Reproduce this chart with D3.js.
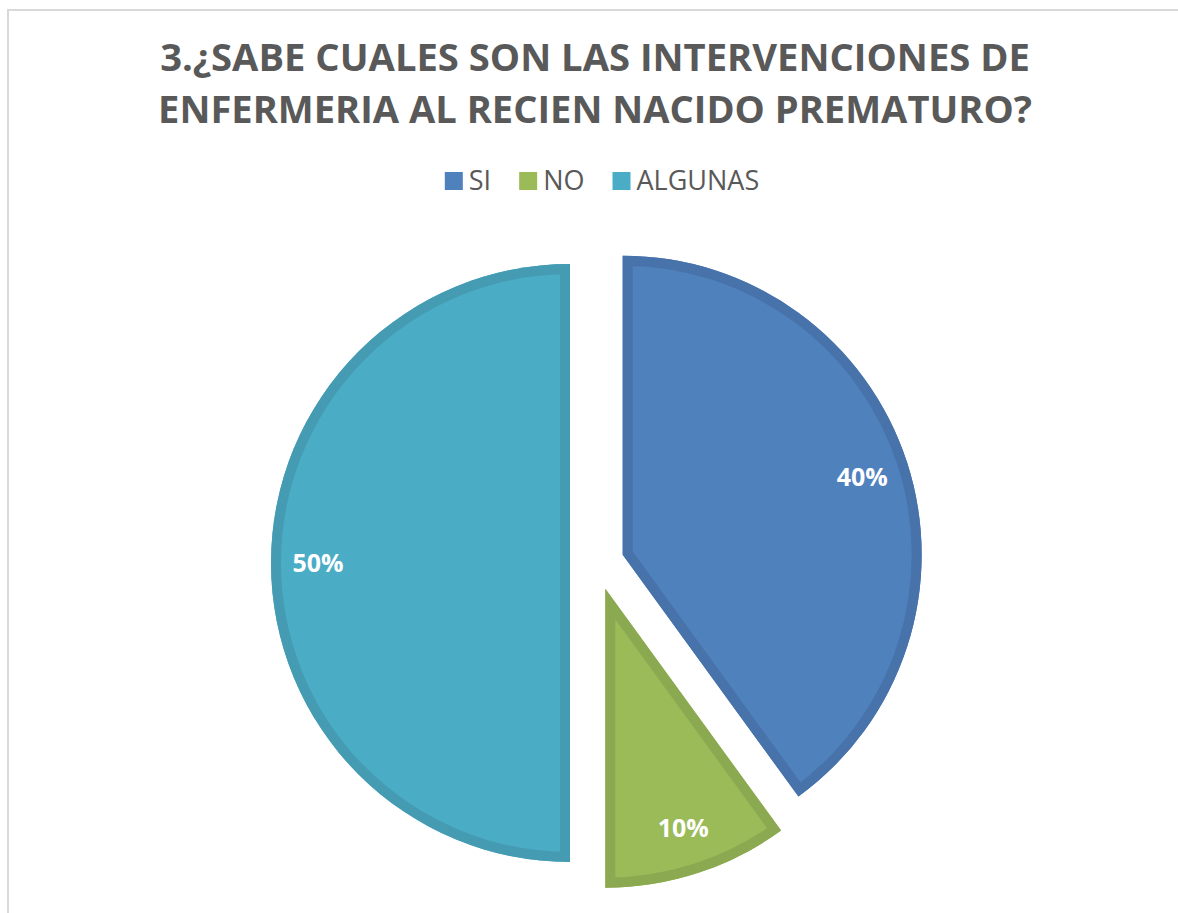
<!DOCTYPE html>
<html><head><meta charset="utf-8">
<script src="https://cdn.jsdelivr.net/npm/d3@7"></script>
<style>body{margin:0;background:#fff;}svg{display:block;}</style>
</head><body>
<svg id="c" width="1178" height="913"></svg>
<script>
const titleLines = ["3.¿SABE CUALES SON LAS INTERVENCIONES DE", "ENFERMERIA AL RECIEN NACIDO PREMATURO?"];
const categories = ["SI", "NO", "ALGUNAS"];
const values = [40, 10, 50];
const labels = ["40%", "10%", "50%"];
const fillColors = ["#4F81BD", "#9BBB59", "#4BACC6"];
const edgeColors = ["#4773AA", "#8BA950", "#449BB2"];

const svg = d3.select("#c");
const W = 1178, H = 913;
svg.append("rect").attr("x", 8).attr("y", 10).attr("width", W + 10).attr("height", H + 10)
  .attr("fill", "#fff").attr("stroke", "#d9d9d9").attr("stroke-width", 2);

// Title
const titleG = svg.append("g");
const baselines = [71, 123];
titleLines.forEach((t, i) => {
  const tx = titleG.append("text").attr("x", 595).attr("y", baselines[i])
    .attr("text-anchor", "middle").attr("font-family", "Open Sans, sans-serif")
    .attr("font-weight", "bold").attr("fill", "#595959").attr("font-size", 36).text(t);
  const w = tx.node().getComputedTextLength();
  const target = i === 0 ? 870 : 874;
  tx.attr("font-size", 36 * target / w);
});

// Legend
const legG = svg.append("g").attr("font-family", "Open Sans, sans-serif");
let lx = 0;
categories.forEach((c, i) => {
  const g = legG.append("g");
  g.append("rect").attr("x", 0).attr("y", -18).attr("width", 18).attr("height", 18).attr("fill", fillColors[i]);
  const t = g.append("text").attr("x", 24).attr("y", 0).attr("font-size", 27).attr("fill", "#595959").text(c);
  const w = 24 + t.node().getComputedTextLength();
  g.attr("transform", `translate(${lx},0)`);
  lx += w + 28;
});
const legW = lx - 28;
legG.attr("transform", `translate(${602 - legW / 2},190)`);

// Pie
const cx = 597, cy = 563, R = 299, explode = 27;
const pie = d3.pie().sort(null).value(d => d)(values);
const arc = d3.arc().innerRadius(0).outerRadius(R);
const defs = svg.append("defs");
const pieG = svg.append("g").attr("transform", `translate(${cx},${cy})`);
pie.forEach((p, i) => {
  const mid = (p.startAngle + p.endAngle) / 2;
  const dx = explode * Math.sin(mid), dy = -explode * Math.cos(mid);
  const g = pieG.append("g").attr("transform", `translate(${dx},${dy})`);
  const id = "clip" + i;
  defs.append("clipPath").attr("id", id).append("path").attr("d", arc(p))
    .attr("transform", `translate(${cx + dx},${cy + dy})`);
  g.append("path").attr("d", arc(p)).attr("fill", fillColors[i]);
  const wrap = svg.append("g").attr("clip-path", `url(#${id})`);
  wrap.append("path").attr("d", arc(p)).attr("transform", `translate(${cx + dx},${cy + dy})`)
    .attr("fill", "none").attr("stroke", edgeColors[i]).attr("stroke-width", 20).attr("stroke-linejoin", "miter");
  const lr = 252;
  svg.append("text").attr("x", cx + dx + lr * Math.sin(mid)).attr("y", cy + dy - lr * Math.cos(mid))
    .attr("text-anchor", "middle").attr("dy", "0.36em")
    .attr("font-family", "Open Sans, sans-serif").attr("font-weight", "bold")
    .attr("font-size", 25).attr("fill", "#fff").text(labels[i]);
});
</script>
</body></html>
